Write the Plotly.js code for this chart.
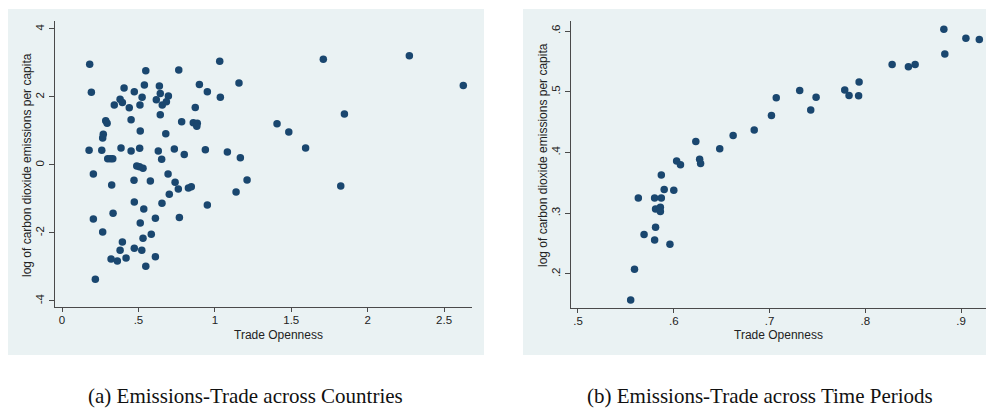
<!DOCTYPE html>
<html><head><meta charset="utf-8">
<script src="https://cdn.plot.ly/plotly-3.0.1.min.js"></script>
<style>html,body{margin:0;padding:0;background:#fff}#chart{width:986px;height:409px}</style>
</head><body><div id="chart"></div>
<script>
// Panel (a): across countries
const countryTrade = [0.181,0.548,0.192,0.406,0.473,0.539,0.637,0.380,0.395,0.342,0.524,0.440,0.510,0.617,0.643,0.656,0.643,0.286,0.295,0.452,0.512,0.270,0.266,0.177,0.260,0.386,0.452,0.508,0.630,0.652,0.299,0.317,0.332,0.489,0.507,0.530,1.032,0.764,0.899,1.158,0.951,1.036,0.696,0.683,0.872,0.783,0.859,0.885,0.882,0.679,0.735,0.800,0.938,1.082,1.167,0.205,0.325,0.471,0.578,0.473,0.535,0.654,0.334,0.205,0.512,0.611,0.266,0.584,0.530,0.395,0.380,0.473,0.522,0.321,0.362,0.419,0.611,0.548,0.218,0.694,0.740,0.761,0.827,0.846,1.211,1.139,0.702,0.951,0.768,1.710,2.273,2.626,1.848,1.407,1.484,1.594,1.824];
const countryEmissions = [2.96,2.77,2.14,2.26,2.15,2.35,2.32,1.93,1.84,1.76,1.99,1.68,1.76,1.92,2.10,1.76,1.48,1.30,1.23,1.33,1.00,0.90,0.79,0.43,0.43,0.50,0.41,0.49,0.41,0.17,0.18,0.18,0.18,-0.03,-0.05,-0.10,3.05,2.79,2.37,2.41,2.15,1.99,2.03,1.86,1.69,1.27,1.24,1.23,1.14,0.92,0.47,0.31,0.45,0.38,0.21,-0.27,-0.59,-0.45,-0.47,-1.09,-1.30,-1.13,-1.42,-1.59,-1.71,-1.57,-1.97,-2.04,-2.16,-2.27,-2.51,-2.45,-2.51,-2.77,-2.83,-2.74,-2.70,-2.98,-3.36,-0.27,-0.51,-0.71,-0.68,-0.64,-0.44,-0.80,-0.86,-1.18,-1.55,3.11,3.21,2.34,1.50,1.21,0.97,0.50,-0.62];

// Panel (b): across time periods
const periodTrade = [0.555,0.559,0.563,0.569,0.580,0.581,0.580,0.587,0.581,0.586,0.586,0.587,0.590,0.600,0.596,0.603,0.607,0.623,0.627,0.628,0.648,0.662,0.684,0.702,0.707,0.7315,0.743,0.7486,0.7785,0.783,0.7935,0.793,0.828,0.845,0.852,0.882,0.883,0.905,0.919];
const periodEmissions = [0.157,0.208,0.325,0.265,0.256,0.277,0.325,0.325,0.307,0.310,0.303,0.363,0.339,0.338,0.249,0.386,0.380,0.418,0.389,0.382,0.406,0.428,0.437,0.461,0.490,0.502,0.470,0.491,0.503,0.494,0.516,0.4935,0.545,0.541,0.545,0.603,0.562,0.588,0.586];

// Tick labels
const xTicksA = [0, 0.5, 1, 1.5, 2, 2.5];
const xTickTextA = ["0", ".5", "1", "1.5", "2", "2.5"];
const yTicksA = [-4, -2, 0, 2, 4];
const yTickTextA = ["-4", "-2", "0", "2", "4"];
const xTicksB = [0.5, 0.6, 0.7, 0.8, 0.9];
const xTickTextB = [".5", ".6", ".7", ".8", ".9"];
const yTicksB = [0.2, 0.3, 0.4, 0.5, 0.6];
const yTickTextB = [".2", ".3", ".4", ".5", ".6"];

const xTitle = "Trade Openness";
const yTitle = "log of carbon dioxide emissions per capita";
const captionA = "(a) Emissions-Trade across Countries";
const captionB = "(b) Emissions-Trade across Time Periods";

const W = 986, H = 409;
const px = v => v / W;
const py = v => 1 - v / H;

const navy = "#1a476f";
const bgGray = "#eaf2f3";
const axisCol = "#4a4a4a";
const sans = "Liberation Sans, Arial, sans-serif";

const markerStyle = {color: navy, size: 7.5, line: {width: 0}};

const traces = [
  {x: countryTrade, y: countryEmissions, type: "scatter", mode: "markers", marker: markerStyle, xaxis: "x", yaxis: "y", hoverinfo: "none"},
  {x: periodTrade, y: periodEmissions, type: "scatter", mode: "markers", marker: markerStyle, xaxis: "x2", yaxis: "y2", hoverinfo: "none"}
];

function xAxis(domain, range, vals, text, anchor) {
  return {domain, range, tickmode: "array", tickvals: vals, ticktext: text, showgrid: false, zeroline: false,
    showline: true, linecolor: axisCol, linewidth: 1.2, ticks: "outside", ticklen: 4, tickwidth: 1, tickcolor: axisCol,
    ticklabelstandoff: -2,
    tickfont: {family: sans, size: 11.5, color: "#222"}, anchor, fixedrange: true};
}
function yAxis(domain, range, vals, text, anchor) {
  return {domain, range, tickmode: "array", tickvals: vals, ticktext: text, showgrid: true, gridcolor: bgGray, gridwidth: 1.5,
    zeroline: false, showline: true, linecolor: axisCol, linewidth: 1.2, ticks: "outside", ticklen: 5, tickwidth: 1, tickcolor: axisCol,
    tickangle: -90, tickfont: {family: sans, size: 11.5, color: "#222"}, anchor, fixedrange: true};
}

const layout = {
  width: W, height: H,
  margin: {l: 0, r: 0, t: 0, b: 0},
  paper_bgcolor: "#ffffff",
  plot_bgcolor: "#ffffff",
  showlegend: false,
  xaxis: xAxis([px(55), px(472)], [-0.046, 2.683], xTicksA, xTickTextA, "y"),
  yaxis: yAxis([py(307), py(21)], [-4.18, 4.235], yTicksA, yTickTextA, "x"),
  xaxis2: xAxis([px(571), 1], [0.4927, 0.926], xTicksB, xTickTextB, "y2"),
  yaxis2: yAxis([py(308), py(21)], [0.144, 0.6165], yTicksB, yTickTextB, "x2"),
  shapes: [
    {type: "rect", xref: "paper", yref: "paper", x0: px(8), x1: px(484), y0: py(355), y1: py(9), fillcolor: bgGray, line: {width: 0}, layer: "below"},
    {type: "rect", xref: "paper", yref: "paper", x0: px(523), x1: 1, y0: py(355), y1: py(9), fillcolor: bgGray, line: {width: 0}, layer: "below"}
  ],
  annotations: [
    {text: xTitle, xref: "paper", yref: "paper", x: px(278), y: py(335), xanchor: "center", yanchor: "middle", showarrow: false, font: {family: sans, size: 12, color: "#222"}},
    {text: xTitle, xref: "paper", yref: "paper", x: px(778), y: py(335), xanchor: "center", yanchor: "middle", showarrow: false, font: {family: sans, size: 12, color: "#222"}},
    {text: yTitle, xref: "paper", yref: "paper", x: px(27), y: py(165), xanchor: "center", yanchor: "middle", textangle: -90, showarrow: false, font: {family: sans, size: 12, color: "#222"}},
    {text: yTitle, xref: "paper", yref: "paper", x: px(543), y: py(155), xanchor: "center", yanchor: "middle", textangle: -90, showarrow: false, font: {family: sans, size: 12, color: "#222"}},
    {text: captionA, xref: "paper", yref: "paper", x: px(245), y: py(396), xanchor: "center", yanchor: "middle", showarrow: false, font: {family: "Liberation Serif, Times New Roman, serif", size: 21, color: "#111"}},
    {text: captionB, xref: "paper", yref: "paper", x: px(760), y: py(396), xanchor: "center", yanchor: "middle", showarrow: false, font: {family: "Liberation Serif, Times New Roman, serif", size: 21, color: "#111"}}
  ]
};

Plotly.newPlot("chart", traces, layout, {staticPlot: true, displayModeBar: false});
</script>
</body></html>
